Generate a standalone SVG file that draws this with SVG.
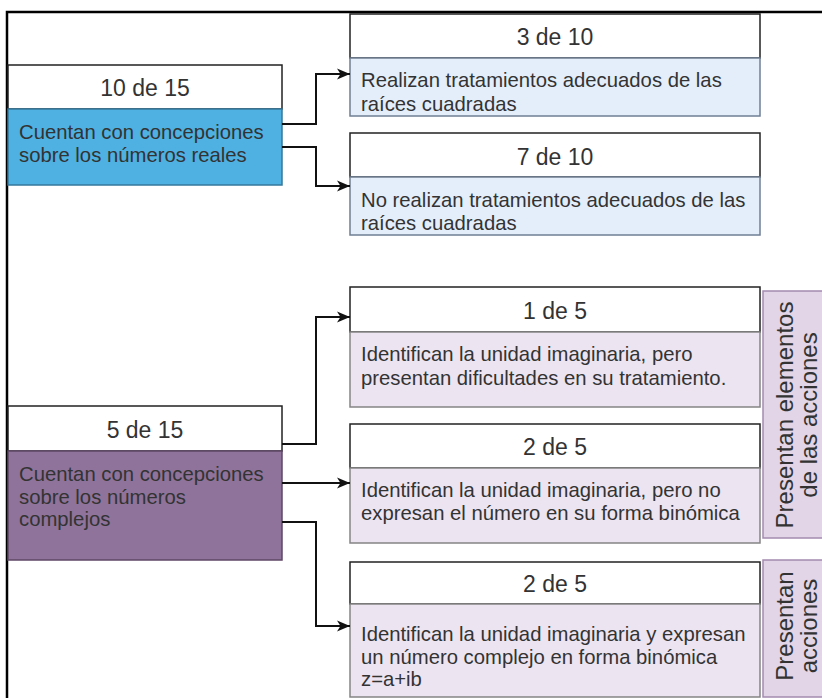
<svg xmlns="http://www.w3.org/2000/svg" width="822" height="698" viewBox="0 0 822 698">
  <style>
    text { font-family: "Liberation Sans", Arial, sans-serif; fill: #333333; }
    .hdr { font-size: 23px; text-anchor: middle; }
    .body { font-size: 20.3px; }
    .side { font-size: 24px; text-anchor: middle; }
    .hbox { fill: #ffffff; stroke: #222222; stroke-width: 1.5; }
    .blue { fill: #4eb1e2; stroke: #35789c; stroke-width: 1.5; }
    .lblue { fill: #e4eefb; stroke: #6f7f93; stroke-width: 1.5; }
    .purple { fill: #8f739b; stroke: #5e4766; stroke-width: 1.5; }
    .lpurple { fill: #ece4f0; stroke: #858585; stroke-width: 1.5; }
    .sidebox { fill: #e1d5e7; stroke: #a48bb0; stroke-width: 1.5; }
    .conn { fill: none; stroke: #111111; stroke-width: 2; }
  </style>
  <defs>
    <marker id="arrow" markerUnits="userSpaceOnUse" markerWidth="14" markerHeight="12" refX="13" refY="6" orient="auto">
      <path d="M0,0.5 L13,6 L0,11.5 L3.5,6 Z" fill="#111111"/>
    </marker>
  </defs>

  <rect width="822" height="698" fill="#ffffff"/>
  <path id="frame" d="M7,698 V12 H822" fill="none" stroke="#000000" stroke-width="2.5"/>

  <g id="n-10de15">
    <rect class="hbox" x="8" y="65" width="274" height="44"/>
    <rect class="blue" x="8" y="109" width="274" height="76"/>
    <text class="hdr" x="145" y="96">10 de 15</text>
    <text class="body" x="19" y="139">Cuentan con concepciones</text>
    <text class="body" x="19" y="162">sobre los números reales</text>
  </g>

  <g id="n-3de10">
    <rect class="hbox" x="350" y="14" width="410" height="44"/>
    <rect class="lblue" x="350" y="58" width="410" height="58"/>
    <text class="hdr" x="555" y="45">3 de 10</text>
    <text class="body" x="361" y="87">Realizan tratamientos adecuados de las</text>
    <text class="body" x="361" y="111">raíces cuadradas</text>
  </g>

  <g id="n-7de10">
    <rect class="hbox" x="350" y="133" width="410" height="44"/>
    <rect class="lblue" x="350" y="177" width="410" height="58"/>
    <text class="hdr" x="555" y="164.5">7 de 10</text>
    <text class="body" x="361" y="207">No realizan tratamientos adecuados de las</text>
    <text class="body" x="361" y="230">raíces cuadradas</text>
  </g>

  <g id="n-5de15">
    <rect class="hbox" x="8" y="406" width="274" height="45"/>
    <rect class="purple" x="8" y="451" width="274" height="109"/>
    <text class="hdr" x="145" y="438">5 de 15</text>
    <text class="body" x="19" y="481">Cuentan con concepciones</text>
    <text class="body" x="19" y="503.5">sobre los números</text>
    <text class="body" x="19" y="526">complejos</text>
  </g>

  <g id="n-1de5">
    <rect class="hbox" x="350" y="287" width="410" height="45"/>
    <rect class="lpurple" x="350" y="332" width="410" height="75"/>
    <text class="hdr" x="555" y="318.5">1 de 5</text>
    <text class="body" x="361" y="361">Identifican la unidad imaginaria, pero</text>
    <text class="body" x="361" y="385">presentan dificultades en su tratamiento.</text>
  </g>

  <g id="n-2de5a">
    <rect class="hbox" x="350" y="424" width="410" height="44"/>
    <rect class="lpurple" x="350" y="468" width="410" height="75"/>
    <text class="hdr" x="555" y="455">2 de 5</text>
    <text class="body" x="361" y="497">Identifican la unidad imaginaria, pero no</text>
    <text class="body" x="361" y="520">expresan el número en su forma binómica</text>
  </g>

  <g id="n-2de5b">
    <rect class="hbox" x="350" y="562" width="410" height="42"/>
    <rect class="lpurple" x="350" y="604" width="410" height="93"/>
    <text class="hdr" x="555" y="592">2 de 5</text>
    <text class="body" x="361" y="641">Identifican la unidad imaginaria y expresan</text>
    <text class="body" x="361" y="663.5">un número complejo en forma binómica</text>
    <text class="body" x="361" y="686">z=a+ib</text>
  </g>

  <g id="n-side1">
    <rect class="sidebox" x="763" y="291" width="70" height="247"/>
    <text class="side" transform="translate(793,415) rotate(-90)">Presentan elementos</text>
    <text class="side" transform="translate(817,415) rotate(-90)">de las acciones</text>
  </g>

  <g id="n-side2">
    <rect class="sidebox" x="763" y="560" width="70" height="137"/>
    <text class="side" transform="translate(793,626) rotate(-90)">Presentan</text>
    <text class="side" transform="translate(817,626) rotate(-90)">acciones</text>
  </g>

  <g id="connectors">
    <path class="conn" d="M282,124 H316 V74 H350" marker-end="url(#arrow)"/>
    <path class="conn" d="M282,147 H316 V186 H350" marker-end="url(#arrow)"/>
    <path class="conn" d="M282,444 H316 V317 H350" marker-end="url(#arrow)"/>
    <path class="conn" d="M282,483 H350" marker-end="url(#arrow)"/>
    <path class="conn" d="M282,522 H316 V626 H350" marker-end="url(#arrow)"/>
  </g>
</svg>
